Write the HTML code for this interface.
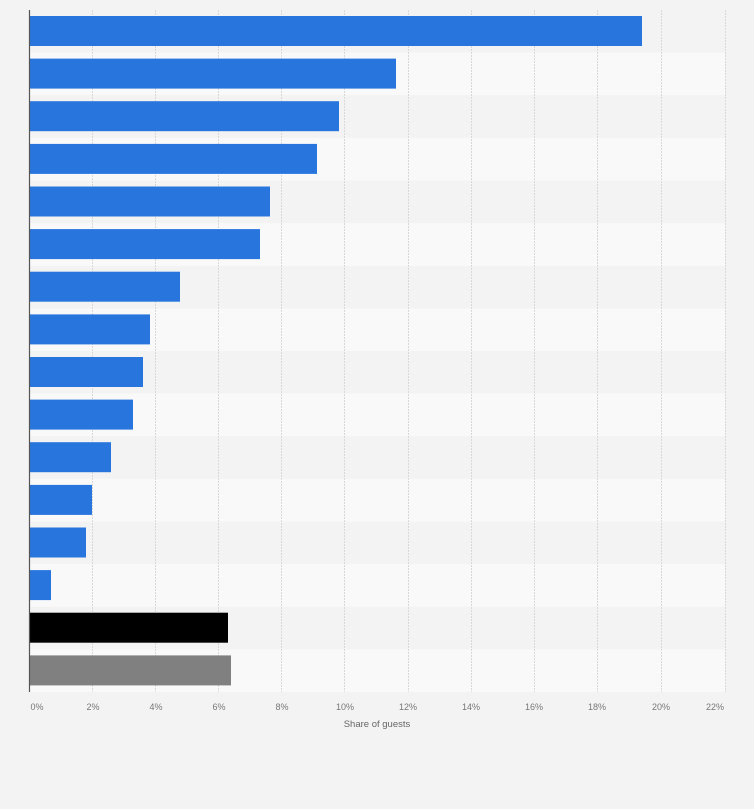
<!DOCTYPE html>
<html><head><meta charset="utf-8"><style>
html,body{margin:0;padding:0;background:#f3f3f3;}
svg{display:block;font-family:"Liberation Sans",sans-serif;}
</style></head><body>
<svg width="754" height="809" xmlns="http://www.w3.org/2000/svg">
<rect width="754" height="809" fill="#f3f3f3"/>
<g id="bands"></g>
<g fill="#f9f9f9">
<rect x="30" y="52.6" width="695" height="42.6"/>
<rect x="30" y="137.9" width="695" height="42.6"/>
<rect x="30" y="223.1" width="695" height="42.6"/>
<rect x="30" y="308.4" width="695" height="42.6"/>
<rect x="30" y="393.6" width="695" height="42.6"/>
<rect x="30" y="478.9" width="695" height="42.6"/>
<rect x="30" y="564.1" width="695" height="42.6"/>
<rect x="30" y="649.4" width="695" height="42.6"/>
</g>
<g stroke="#d8d8d8" stroke-width="1" stroke-dasharray="2,1">
<line x1="92.5" y1="10" x2="92.5" y2="692"/>
<line x1="155.5" y1="10" x2="155.5" y2="692"/>
<line x1="218.5" y1="10" x2="218.5" y2="692"/>
<line x1="281.5" y1="10" x2="281.5" y2="692"/>
<line x1="344.5" y1="10" x2="344.5" y2="692"/>
<line x1="408.5" y1="10" x2="408.5" y2="692"/>
<line x1="471.5" y1="10" x2="471.5" y2="692"/>
<line x1="534.5" y1="10" x2="534.5" y2="692"/>
<line x1="597.5" y1="10" x2="597.5" y2="692"/>
<line x1="661.5" y1="10" x2="661.5" y2="692"/>
<line x1="725.5" y1="10" x2="725.5" y2="692"/>
</g>
<g fill="#2876dd">
<rect x="30" y="16" width="612" height="30"/>
<rect x="30" y="58.6" width="366" height="30"/>
<rect x="30" y="101.2" width="309" height="30"/>
<rect x="30" y="143.9" width="287" height="30"/>
<rect x="30" y="186.5" width="240" height="30"/>
<rect x="30" y="229.1" width="230" height="30"/>
<rect x="30" y="271.7" width="150" height="30"/>
<rect x="30" y="314.4" width="120" height="30"/>
<rect x="30" y="357" width="113" height="30"/>
<rect x="30" y="399.6" width="103" height="30"/>
<rect x="30" y="442.2" width="81" height="30"/>
<rect x="30" y="484.9" width="62" height="30"/>
<rect x="30" y="527.5" width="56" height="30"/>
<rect x="30" y="570.1" width="21" height="30"/>
</g>
<rect x="30" y="612.7" width="198" height="30" fill="#000"/>
<rect x="30" y="655.4" width="201" height="30" fill="#808080"/>
<line x1="29.5" y1="10" x2="29.5" y2="692" stroke="#555" stroke-width="1.2"/>
<g fill="#777" font-size="9" text-anchor="middle">
<text x="37" y="710">0%</text>
<text x="93" y="710">2%</text>
<text x="156" y="710">4%</text>
<text x="219" y="710">6%</text>
<text x="282" y="710">8%</text>
<text x="345" y="710">10%</text>
<text x="408" y="710">12%</text>
<text x="471" y="710">14%</text>
<text x="534" y="710">16%</text>
<text x="597" y="710">18%</text>
<text x="661" y="710">20%</text>
<text x="715" y="710">22%</text>
</g>
<text x="377" y="727" fill="#666" font-size="9.5" text-anchor="middle">Share of guests</text>
</svg>
</body></html>
